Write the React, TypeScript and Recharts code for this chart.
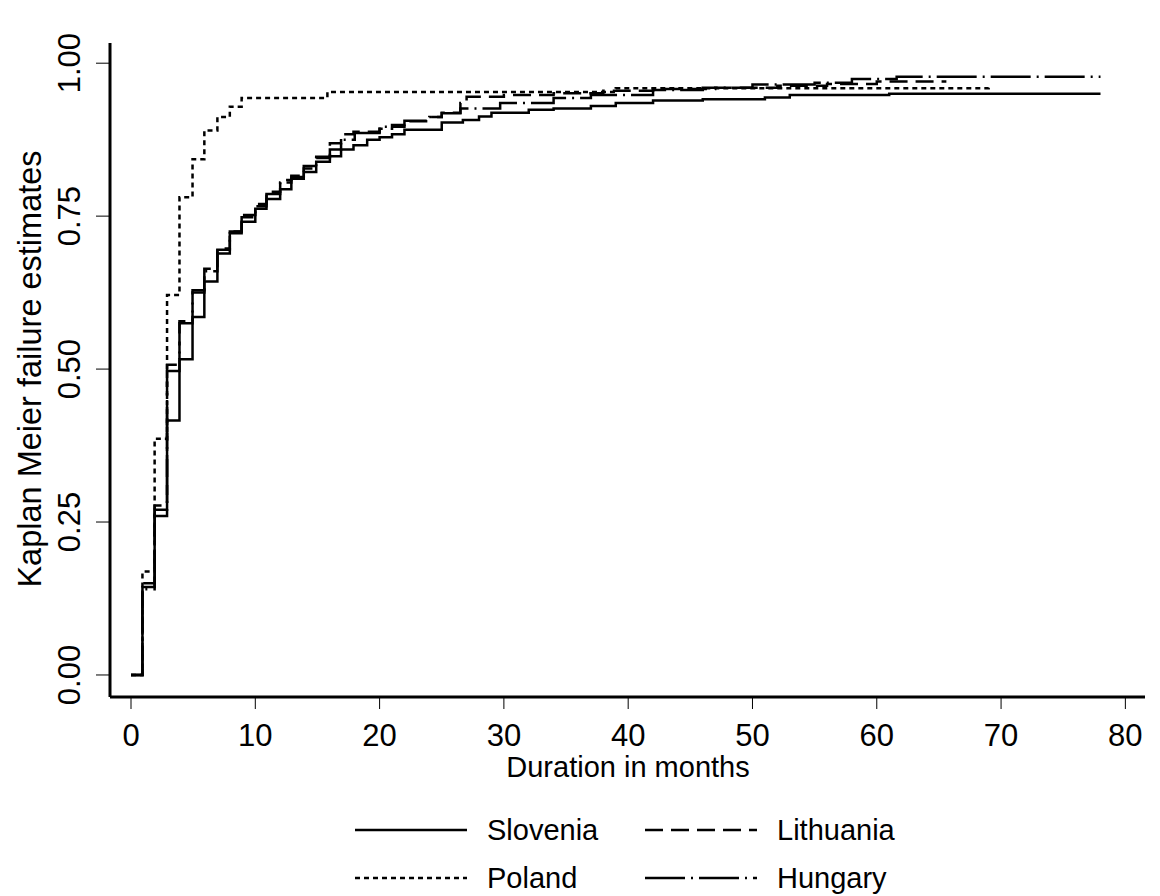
import { LineChart, Line, XAxis, YAxis } from "recharts"

// Kaplan Meier failure estimates (months, share failed)
const sloveniaT = [0, 0.92, 1.9, 2.9, 3.9, 4.95, 5.9, 6.95, 7.95, 8.9, 10, 10.9, 12, 12.9, 13.9, 14.9, 16, 16.9, 17.9, 19, 20, 21, 22, 25, 26.7, 28, 29, 32, 34, 37, 39, 42, 46, 51, 53, 61, 78]
const sloveniaV = [0, 0.144, 0.26, 0.416, 0.516, 0.585, 0.643, 0.689, 0.725, 0.741, 0.762, 0.778, 0.794, 0.811, 0.822, 0.839, 0.848, 0.859, 0.866, 0.875, 0.879, 0.884, 0.891, 0.903, 0.907, 0.913, 0.919, 0.924, 0.926, 0.93, 0.935, 0.939, 0.941, 0.944, 0.948, 0.95, 0.95]

const lithuaniaT = [0, 0.92, 1.9, 2.9, 3.9, 4.95, 5.9, 6.95, 7.95, 8.9, 10, 10.9, 12, 12.9, 13.9, 14.9, 16, 16.9, 17.9, 20, 21, 22, 24, 25, 26.5, 27, 30, 34, 38, 42, 47, 52, 56, 60, 65.6]
const lithuaniaV = [0, 0.15, 0.277, 0.507, 0.578, 0.629, 0.664, 0.697, 0.725, 0.752, 0.77, 0.79, 0.809, 0.816, 0.832, 0.847, 0.869, 0.884, 0.888, 0.893, 0.899, 0.905, 0.912, 0.919, 0.935, 0.945, 0.948, 0.951, 0.955, 0.958, 0.96, 0.963, 0.966, 0.97, 0.97]

const polandT = [0, 0.92, 1.9, 2.9, 3.9, 4.95, 5.9, 6.95, 7.95, 8.9, 15.8, 39, 69]
const polandV = [0, 0.169, 0.386, 0.621, 0.781, 0.843, 0.89, 0.912, 0.929, 0.943, 0.953, 0.959, 0.96]

const hungaryT = [0, 0.92, 1.9, 2.9, 3.9, 4.95, 5.9, 6.95, 7.95, 8.9, 10, 10.9, 12, 12.9, 13.9, 14.9, 16, 16.9, 18, 20, 22, 24, 25, 26.5, 29.7, 34, 37, 42, 46, 50, 55, 58, 61.6, 78]
const hungaryV = [0, 0.14, 0.27, 0.497, 0.575, 0.625, 0.66, 0.695, 0.722, 0.748, 0.766, 0.786, 0.805, 0.814, 0.828, 0.845, 0.859, 0.875, 0.886, 0.896, 0.906, 0.912, 0.918, 0.926, 0.935, 0.943, 0.948, 0.956, 0.96, 0.965, 0.968, 0.974, 0.978, 0.978]

const xTicks = [0, 10, 20, 30, 40, 50, 60, 70, 80]
const yTicks = [0, 0.25, 0.5, 0.75, 1]

const zip = (t: number[], v: number[]) => t.map((x, i) => ({ t: x, v: v[i] }))

const series = [
  { name: "Slovenia", data: zip(sloveniaT, sloveniaV), dash: undefined },
  { name: "Lithuania", data: zip(lithuaniaT, lithuaniaV), dash: "18 8" },
  { name: "Poland", data: zip(polandT, polandV), dash: "5 4" },
  { name: "Hungary", data: zip(hungaryT, hungaryV), dash: "40 6 2 6" },
]

const font = "'Liberation Sans', Arial, sans-serif"

const XTick = (props: any) => {
  const { x, y, payload } = props
  return (
    <text x={x} y={y + 35} textAnchor="middle" fontSize={31} fontFamily={font} fill="#000">
      {payload.value}
    </text>
  )
}

const YTick = (props: any) => {
  const { y, payload } = props
  return (
    <text x={80} y={y} transform={`rotate(-90, 80, ${y})`} textAnchor="middle" fontSize={31} fontFamily={font} fill="#000">
      {payload.value.toFixed(2)}
    </text>
  )
}

const legendRows = [
  [series[0], series[1]],
  [series[2], series[3]],
]

export default function App() {
  return (
    <div style={{ position: "absolute", left: 0, top: 0, width: 1160, height: 896, background: "#fff" }}>
      <LineChart width={1160} height={896} margin={{ top: 43, right: 15, left: 50, bottom: 99 }}>
        <XAxis
          dataKey="t"
          type="number"
          domain={[-1.69, 81.58]}
          ticks={xTicks}
          allowDataOverflow
          height={100}
          tickSize={12}
          tickLine={{ stroke: "#000", strokeWidth: 1 }}
          axisLine={{ stroke: "#000", strokeWidth: 3 }}
          tick={<XTick />}
          label={{
            content: () => (
              <text x={628} y={777} textAnchor="middle" fontSize={29} fontFamily={font} fill="#000">
                Duration in months
              </text>
            ),
          }}
        />
        <YAxis
          type="number"
          domain={[-0.036, 1.033]}
          ticks={yTicks}
          allowDataOverflow
          width={60}
          tickSize={14}
          tickLine={{ stroke: "#000", strokeWidth: 1 }}
          axisLine={{ stroke: "#000", strokeWidth: 3 }}
          tick={<YTick />}
          label={{
            content: () => (
              <text x={41} y={369} transform="rotate(-90, 41, 369)" textAnchor="middle" fontSize={32.5} fontFamily={font} fill="#000">
                Kaplan Meier failure estimates
              </text>
            ),
          }}
        />
        {series.map((s) => (
          <Line
            key={s.name}
            data={s.data}
            dataKey="v"
            name={s.name}
            type="stepAfter"
            stroke="#000"
            strokeWidth={2.5}
            strokeDasharray={s.dash}
            dot={false}
            activeDot={false}
            isAnimationActive={false}
          />
        ))}
      </LineChart>
      <svg width={1160} height={96} style={{ position: "absolute", left: 0, top: 800 }}>
        {legendRows.map((row, r) =>
          row.map((s, c) => {
            const x0 = c === 0 ? 355 : 645
            const cy = r === 0 ? 30 : 78
            return (
              <g key={s.name}>
                <line x1={x0} x2={x0 + 112} y1={cy} y2={cy} stroke="#000" strokeWidth={2.5} strokeDasharray={s.dash} />
                <text x={x0 + 132} y={cy + 10} fontSize={29} fontFamily={font} fill="#000">
                  {s.name}
                </text>
              </g>
            )
          })
        )}
      </svg>
    </div>
  )
}
